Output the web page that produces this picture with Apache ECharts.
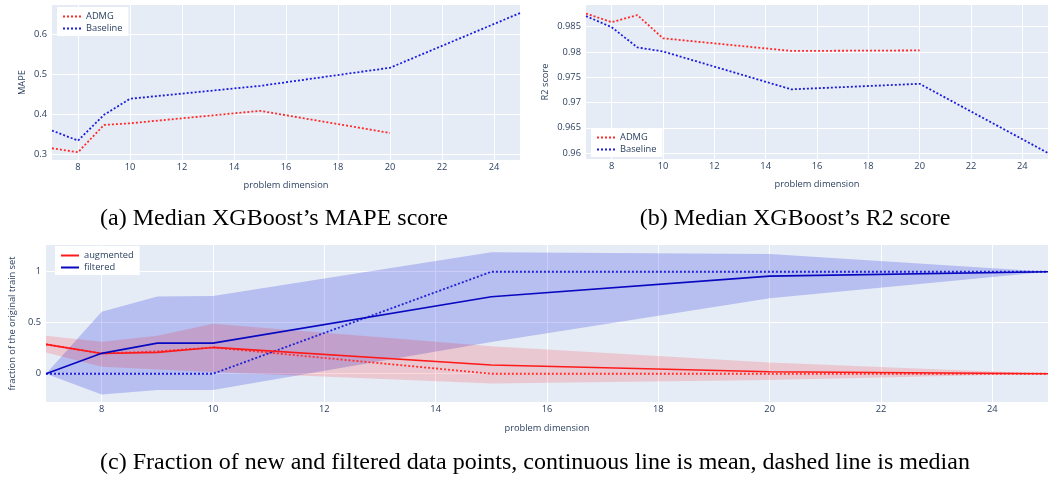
<!DOCTYPE html>
<html>
<head>
<meta charset="utf-8">
<script src="https://cdn.jsdelivr.net/npm/echarts@6/dist/echarts.min.js"></script>
<style>
html,body{margin:0;padding:0;background:#fff;}
#chart{width:1048px;height:478px;}
</style>
</head>
<body>
<div id="chart"></div>
<script>
// ---- data ----
const dims = [7, 8, 9, 10, 15, 20, 25];
const xTicks = [8, 10, 12, 14, 16, 18, 20, 22, 24];

const mapeADMG     = [0.316, 0.306, 0.374, 0.378, 0.409, 0.354, null];
const mapeBaseline = [0.360, 0.335, 0.399, 0.439, 0.471, 0.516, 0.652];
const mapeTicks    = [0.3, 0.4, 0.5, 0.6];

const r2ADMG     = [0.9876, 0.9859, 0.9873, 0.9827, 0.9802, 0.9803, null];
const r2Baseline = [0.9871, 0.9849, 0.9809, 0.9801, 0.9726, 0.9737, 0.9600];
const r2Ticks    = [0.96, 0.965, 0.97, 0.975, 0.98, 0.985];

const augMean   = [0.288, 0.199, 0.209, 0.258, 0.085, 0.020, 0];
const augMedian = [0.288, 0.199, 0.219, 0.258, 0, 0, 0];
const augUpper  = [0.373, 0.314, 0.373, 0.490, 0.270, 0.111, 0];
const augLower  = [0.209, 0.069, 0.042, 0.016, -0.095, -0.062, 0];

const filMean   = [0, 0.200, 0.300, 0.300, 0.755, 0.957, 1];
const filMedian = [0, 0, 0, 0, 1, 1, 1];
const filUpper  = [0, 0.608, 0.758, 0.761, 1.190, 1.173, 1];
const filLower  = [0, -0.203, -0.160, -0.160, 0.310, 0.739, 1];
const fracTicks = [0, 0.5, 1];

const captions = [
  "(a) Median XGBoost\u2019s MAPE score",
  "(b) Median XGBoost\u2019s R2 score",
  "(c) Fraction of new and filtered data points, continuous line is mean, dashed line is median"
];

// ---- helpers ----
const pairs = arr => dims.map((d, i) => [d, arr[i]]).filter(p => p[1] !== null && p[1] !== undefined);

const FONT = '"Open Sans", sans-serif';
const TXT = '#2a3f5f';
const FS = 9.3;

function xAxis(gridIndex, max, nameGap) {
  return {
    type: 'value', gridIndex, min: 7, max: max,
    name: 'problem dimension', nameLocation: 'middle', nameGap: nameGap,
    nameTextStyle: {color: TXT, fontSize: FS, fontFamily: FONT},
    axisLine: {show: false},
    axisTick: {show: false, customValues: xTicks},
    axisLabel: {customValues: xTicks, color: TXT, fontSize: FS, fontFamily: FONT, margin: 3},
    splitLine: {show: true, lineStyle: {color: '#ffffff', width: 1}}
  };
}
function yAxis(gridIndex, min, max, ticks, name, nameGap) {
  return {
    type: 'value', gridIndex, min, max,
    name, nameLocation: 'middle', nameGap,
    nameTextStyle: {color: TXT, fontSize: FS, fontFamily: FONT},
    axisLine: {show: false},
    axisTick: {show: false, customValues: ticks},
    axisLabel: {customValues: ticks, color: TXT, fontSize: FS, fontFamily: FONT, margin: 5},
    splitLine: {show: true, lineStyle: {color: '#ffffff', width: 1}}
  };
}
function dotted(name, data, color, xi, yi) {
  return {
    type: 'line', name, data, xAxisIndex: xi, yAxisIndex: yi,
    symbol: 'none', smooth: false,
    lineStyle: {color, width: 1.8, type: [2, 2]},
    itemStyle: {color}, z: 5
  };
}
function band(name, upper, lower, color) {
  return {
    type: 'custom', name, xAxisIndex: 2, yAxisIndex: 2, z: 1, clip: true,
    data: dims.map((d, i) => [d, lower[i], upper[i]]),
    renderItem: function (params, api) {
      if (params.dataIndex !== 0) return null;
      const pts = [];
      for (let i = 0; i < dims.length; i++) pts.push(api.coord([dims[i], upper[i]]));
      for (let i = dims.length - 1; i >= 0; i--) pts.push(api.coord([dims[i], lower[i]]));
      return {
        type: 'polygon',
        shape: {points: pts},
        style: {fill: color, stroke: null},
        silent: true
      };
    },
    encode: {x: 0, y: [1, 2]}
  };
}
function legendBox(left, top, names) {
  return {
    left, top, orient: 'vertical', data: names,
    backgroundColor: '#ffffff', padding: [5, 6, 3, 5],
    itemWidth: 18, itemHeight: 10, itemGap: 3,
    itemStyle: {opacity: 0},
    textStyle: {color: TXT, fontSize: FS, fontFamily: FONT},
    selectedMode: false
  };
}

const chart = echarts.init(document.getElementById('chart'), null, {renderer: 'canvas'});

const option = {
  backgroundColor: '#ffffff',
  animation: false,
  grid: [
    {left: 52, top: 5, width: 468, height: 155, show: true, backgroundColor: '#E5ECF6', borderWidth: 0},
    {left: 586, top: 5, width: 465, height: 154, show: true, backgroundColor: '#E5ECF6', borderWidth: 0},
    {left: 46, top: 245, width: 1004, height: 157, show: true, backgroundColor: '#E5ECF6', borderWidth: 0}
  ],
  xAxis: [xAxis(0, 25, 21), xAxis(1, 25, 21), xAxis(2, 25, 22)],
  yAxis: [
    yAxis(0, 0.2868, 0.672, mapeTicks, 'MAPE', 25),
    yAxis(1, 0.95882, 0.98929, r2Ticks, 'R2 score', 36),
    yAxis(2, -0.277, 1.262, fracTicks, 'fraction of the original train set', 27)
  ],
  legend: [
    legendBox(57, 7, ['ADMG', 'Baseline']),
    legendBox(591, 128, ['ADMG', 'Baseline']),
    legendBox(55, 246, ['augmented', 'filtered'])
  ],
  series: [
    dotted('ADMG', pairs(mapeADMG), '#ff2a2a', 0, 0),
    dotted('Baseline', pairs(mapeBaseline), '#1c1cdc', 0, 0),
    dotted('ADMG', pairs(r2ADMG), '#ff2a2a', 1, 1),
    dotted('Baseline', pairs(r2Baseline), '#1c1cdc', 1, 1),
    band('filtered band', filUpper, filLower, 'rgba(30,40,220,0.23)'),
    band('augmented band', augUpper, augLower, 'rgba(255,0,0,0.15)'),
    dotted('augmented median', pairs(augMedian), '#ff3030', 2, 2),
    dotted('filtered median', pairs(filMedian), '#2020d8', 2, 2),
    {type: 'line', name: 'augmented', data: pairs(augMean), xAxisIndex: 2, yAxisIndex: 2,
     symbol: 'none', lineStyle: {color: '#ff1a1a', width: 1.6}, itemStyle: {color: '#ff1a1a'}, z: 6},
    {type: 'line', name: 'filtered', data: pairs(filMean), xAxisIndex: 2, yAxisIndex: 2,
     symbol: 'none', lineStyle: {color: '#0808c0', width: 1.6}, itemStyle: {color: '#0808c0'}, z: 6}
  ],
  graphic: [
    {type: 'text', x: 274, y: 219, style: {text: captions[0], font: '24px "Liberation Serif"', fill: '#000', align: 'center', verticalAlign: 'middle'}},
    {type: 'text', x: 795, y: 219, style: {text: captions[1], font: '24px "Liberation Serif"', fill: '#000', align: 'center', verticalAlign: 'middle'}},
    {type: 'text', x: 535, y: 463, style: {text: captions[2], font: '24px "Liberation Serif"', fill: '#000', align: 'center', verticalAlign: 'middle'}}
  ]
};
chart.setOption(option);
</script>
</body>
</html>
